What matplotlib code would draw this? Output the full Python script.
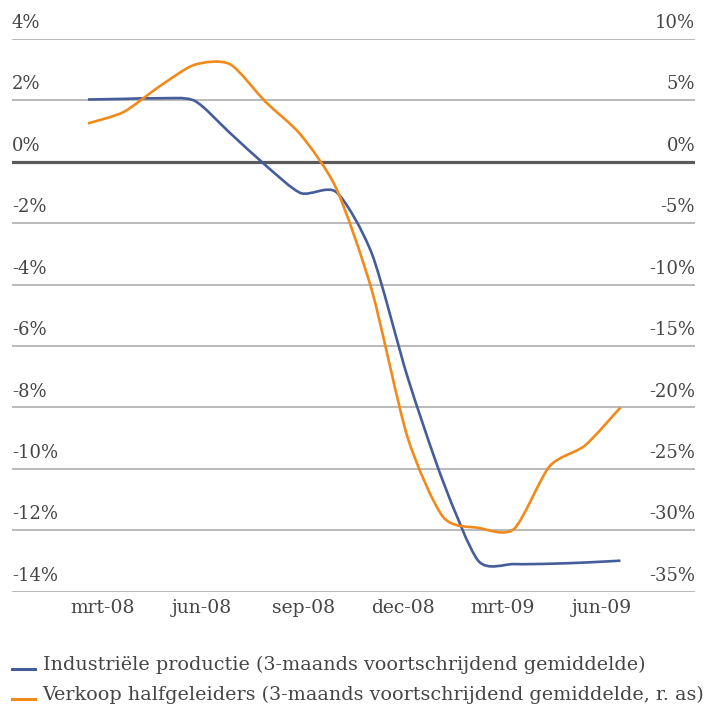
import matplotlib
matplotlib.use("Agg")
import matplotlib.pyplot as plt
from matplotlib.path import Path
from matplotlib.patches import PathPatch
from matplotlib.lines import Line2D
from matplotlib.legend_handler import HandlerLine2D
import numpy as np

# waarden (16 punten)
industrie = [2.03, 2.05, 2.07, 1.99, 0.94, -0.11, -1.02, -0.99,
             -3.0, -7.0, -10.4, -13.0, -13.1, -13.09, -13.05, -12.99]
halfgeleiders = [3.13, 4.05, 6.11, 7.9, 7.95, 4.89, 2.18, -2.2,
                 -10.5, -22.4, -28.9, -29.8, -29.9, -24.8, -23.1, -20.0]

maand_labels = ["mrt-08", "jun-08", "sep-08", "dec-08", "mrt-09", "jun-09"]
maand_pos = [0.42, 3.21, 6.08, 8.87, 11.69, 14.48]

links_ticks = list(range(-14, 5, 2))
rechts_ticks = list(range(-35, 11, 5))

label_ind = "Industriële productie (3-maands voortschrijdend gemiddelde)"
label_hg = "Verkoop halfgeleiders (3-maands voortschrijdend gemiddelde, r. as)"

BLAUW = "#465d9b"
ORANJE = "#f28a1b"
TEKST = "#454545"

plt.rcParams["font.family"] = ["DejaVu Serif"]


def smooth_path(x, y, k=1 / 8):
    # gladde lijn zoals Excel: bezier-segmenten door de punten
    p = np.column_stack([x, y]).astype(float)
    n = len(p)
    verts = [tuple(p[0])]
    codes = [Path.MOVETO]
    for i in range(n - 1):
        p_prev = p[i - 1] if i > 0 else p[i]
        p_next2 = p[i + 2] if i + 2 < n else p[i + 1]
        c1 = p[i] + (p[i + 1] - p_prev) * k
        c2 = p[i + 1] - (p_next2 - p[i]) * k
        verts += [tuple(c1), tuple(c2), tuple(p[i + 1])]
        codes += [Path.CURVE4] * 3
    return Path(verts, codes)


class LowLine(HandlerLine2D):
    def create_artists(self, legend, orig_handle, xdescent, ydescent,
                       width, height, fontsize, trans):
        arts = super().create_artists(legend, orig_handle, xdescent, ydescent,
                                      width, height, fontsize, trans)
        for a in arts:
            if isinstance(a, Line2D):
                a.set_ydata([-ydescent + 0.1 * height] * len(a.get_xdata()))
        return arts


fig = plt.figure(figsize=(7.1, 7.09), dpi=100)
ax = fig.add_axes([12 / 710, 117.3 / 709, (695 - 12) / 710, (670 - 117.3) / 709])
ax2 = ax.twinx()

x = np.arange(len(industrie))

ax.set_xlim(-2.14, 17.1)
ax.set_ylim(-14, 4)
ax2.set_ylim(-35, 10)

ax.set_yticks(links_ticks)
ax.set_yticklabels([])
ax2.set_yticks(rechts_ticks)
ax2.set_yticklabels([])
ax.grid(axis="y", color="#b4b4b4", lw=1.3)
ax.axhline(0, color="#5a5a5a", lw=2.3, zorder=2)

for a in (ax, ax2):
    for s in a.spines.values():
        s.set_visible(False)
    a.tick_params(axis="both", length=0)

for v in links_ticks:
    ax.annotate(f"{v}%", xy=(0, v), xycoords=("axes fraction", "data"),
                xytext=(0, 5), textcoords="offset points",
                ha="left", va="bottom", fontsize=13, color=TEKST)
for v in rechts_ticks:
    ax2.annotate(f"{v}%", xy=(1, v), xycoords=("axes fraction", "data"),
                 xytext=(0, 5), textcoords="offset points",
                 ha="right", va="bottom", fontsize=13, color=TEKST)

ax.set_xticks(maand_pos)
ax.set_xticklabels(maand_labels, fontsize=13.5, color=TEKST)
ax.tick_params(axis="x", pad=5)

ax.add_patch(PathPatch(smooth_path(x, industrie), fill=False,
                       edgecolor=BLAUW, lw=1.9, zorder=3))
ax2.add_patch(PathPatch(smooth_path(x, halfgeleiders), fill=False,
                        edgecolor=ORANJE, lw=1.9, zorder=3))

h1 = Line2D([], [], color=BLAUW, lw=2.2)
h2 = Line2D([], [], color=ORANJE, lw=2.2)
fig.legend([h1, h2], [label_ind, label_hg], loc="upper left",
           bbox_to_anchor=(12 / 710, 0.075), frameon=False,
           borderpad=0, borderaxespad=0, handlelength=1.2,
           handletextpad=0.4, labelspacing=0.62,
           prop={"size": 13.8}, labelcolor=TEKST,
           handler_map={Line2D: LowLine()})

fig.savefig("out.png", dpi=100)
